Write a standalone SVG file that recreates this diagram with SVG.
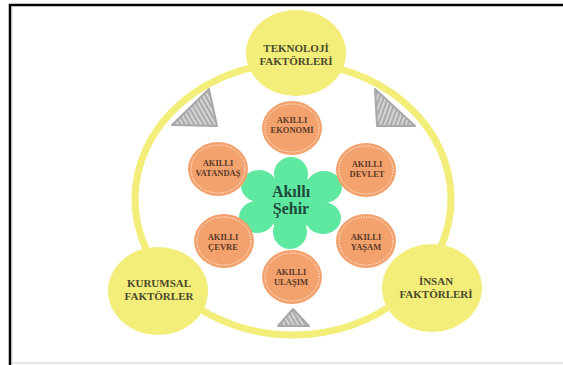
<svg xmlns="http://www.w3.org/2000/svg" width="563" height="365" viewBox="0 0 563 365">
<defs>
<pattern id="hatch" patternUnits="userSpaceOnUse" width="4" height="4" patternTransform="rotate(60)">
<rect width="4" height="4" fill="#d4d4d4"/>
<line x1="0" y1="2" x2="4" y2="2" stroke="#9a9a9a" stroke-width="1.4"/>
</pattern>
<pattern id="hatch2" patternUnits="userSpaceOnUse" width="4" height="4" patternTransform="rotate(-70)">
<rect width="4" height="4" fill="#d4d4d4"/>
<line x1="0" y1="2" x2="4" y2="2" stroke="#9a9a9a" stroke-width="1.4"/>
</pattern>
</defs>
<style>
.factor{fill:#f3ed7a}
.ftxt{font-family:"Liberation Serif","Times New Roman",serif;font-weight:bold;font-size:11px;fill:#4a4a2c;text-anchor:middle}
.orb{fill:#f4a26d}
.dots{fill:none;stroke:#ffffff;stroke-width:1;stroke-dasharray:1.2 1.4;opacity:0.9}
.otxt{font-family:"Liberation Serif","Times New Roman",serif;font-weight:bold;font-size:8.5px;fill:#5a3a28;text-anchor:middle}
.tri{stroke:#a8a8a8;stroke-width:2;stroke-linejoin:round}
.petal{fill:#5fe8a0}
.ctxt{font-family:"Liberation Serif","Times New Roman",serif;font-weight:bold;font-size:16px;fill:#1d4a3a;text-anchor:middle}
</style>
<rect width="563" height="365" fill="#ffffff"/>
<line x1="9" y1="5" x2="563" y2="5" stroke="#000" stroke-width="2.5"/>
<line x1="10" y1="4" x2="10" y2="365" stroke="#000" stroke-width="2.5"/>
<line x1="11.8" y1="6" x2="11.8" y2="365" stroke="#bbbbbb" stroke-width="1"/>
<line x1="12" y1="363" x2="563" y2="363" stroke="#dddddd" stroke-width="1.5"/>

<g id="connectors">
<ellipse cx="293" cy="199" rx="158" ry="136" fill="none" stroke="#f3ed7a" stroke-width="7"/>
</g>

<g id="triangles">
<polygon class="tri" points="172,125 209,89 217,126" fill="url(#hatch)"/>
<polygon class="tri" points="375,89 377,126 415,126" fill="url(#hatch2)"/>
<polygon class="tri" points="278,326 293,309 309,326" fill="url(#hatch)"/>
</g>

<g id="teknoloji">
<ellipse class="factor" cx="296" cy="53" rx="50" ry="43"/>
<text class="ftxt" x="296" y="52">TEKNOLOJİ</text>
<text class="ftxt" x="296" y="65">FAKTÖRLERİ</text>
</g>
<g id="kurumsal">
<ellipse class="factor" cx="158" cy="291" rx="50" ry="44"/>
<text class="ftxt" x="159" y="287">KURUMSAL</text>
<text class="ftxt" x="159" y="300">FAKTÖRLER</text>
</g>
<g id="insan">
<ellipse class="factor" cx="432" cy="288" rx="50" ry="44"/>
<text class="ftxt" x="436" y="285">İNSAN</text>
<text class="ftxt" x="436" y="298">FAKTÖRLERİ</text>
</g>

<g id="akilli-sehir">
<ellipse class="petal" cx="291" cy="202" rx="30" ry="28"/>
<ellipse class="petal" cx="291" cy="174" rx="17" ry="17"/>
<ellipse class="petal" cx="290" cy="232" rx="17" ry="17"/>
<ellipse class="petal" cx="259" cy="186" rx="18" ry="16"/>
<ellipse class="petal" cx="324" cy="187" rx="18" ry="16"/>
<ellipse class="petal" cx="257" cy="217" rx="18" ry="16"/>
<ellipse class="petal" cx="323" cy="218" rx="18" ry="16"/>
<text class="ctxt" x="291" y="197">Akıllı</text>
<text class="ctxt" x="291" y="214">Şehir</text>
</g>

<g id="ekonomi">
<ellipse class="orb" cx="292" cy="128" rx="30" ry="27"/>
<ellipse class="dots" cx="292" cy="128" rx="27" ry="24"/>
<text class="otxt" x="292" y="123">AKILLI</text>
<text class="otxt" x="292" y="133">EKONOMİ</text>
</g>
<g id="vatandas">
<ellipse class="orb" cx="218" cy="169" rx="30" ry="27"/>
<ellipse class="dots" cx="218" cy="169" rx="27" ry="24"/>
<text class="otxt" x="218" y="166">AKILLI</text>
<text class="otxt" x="218" y="176">VATANDAŞ</text>
</g>
<g id="devlet">
<ellipse class="orb" cx="366" cy="170" rx="30" ry="27"/>
<ellipse class="dots" cx="366" cy="170" rx="27" ry="24"/>
<text class="otxt" x="367" y="167">AKILLI</text>
<text class="otxt" x="367" y="177">DEVLET</text>
</g>
<g id="cevre">
<ellipse class="orb" cx="224" cy="241" rx="30" ry="27"/>
<ellipse class="dots" cx="224" cy="241" rx="27" ry="24"/>
<text class="otxt" x="223" y="240">AKILLI</text>
<text class="otxt" x="223" y="250">ÇEVRE</text>
</g>
<g id="yasam">
<ellipse class="orb" cx="366" cy="241" rx="30" ry="27"/>
<ellipse class="dots" cx="366" cy="241" rx="27" ry="24"/>
<text class="otxt" x="366" y="240">AKILLI</text>
<text class="otxt" x="366" y="250">YAŞAM</text>
</g>
<g id="ulasim">
<ellipse class="orb" cx="292" cy="277" rx="30" ry="27"/>
<ellipse class="dots" cx="292" cy="277" rx="27" ry="24"/>
<text class="otxt" x="291" y="275">AKILLI</text>
<text class="otxt" x="291" y="285">ULAŞIM</text>
</g>
</svg>
